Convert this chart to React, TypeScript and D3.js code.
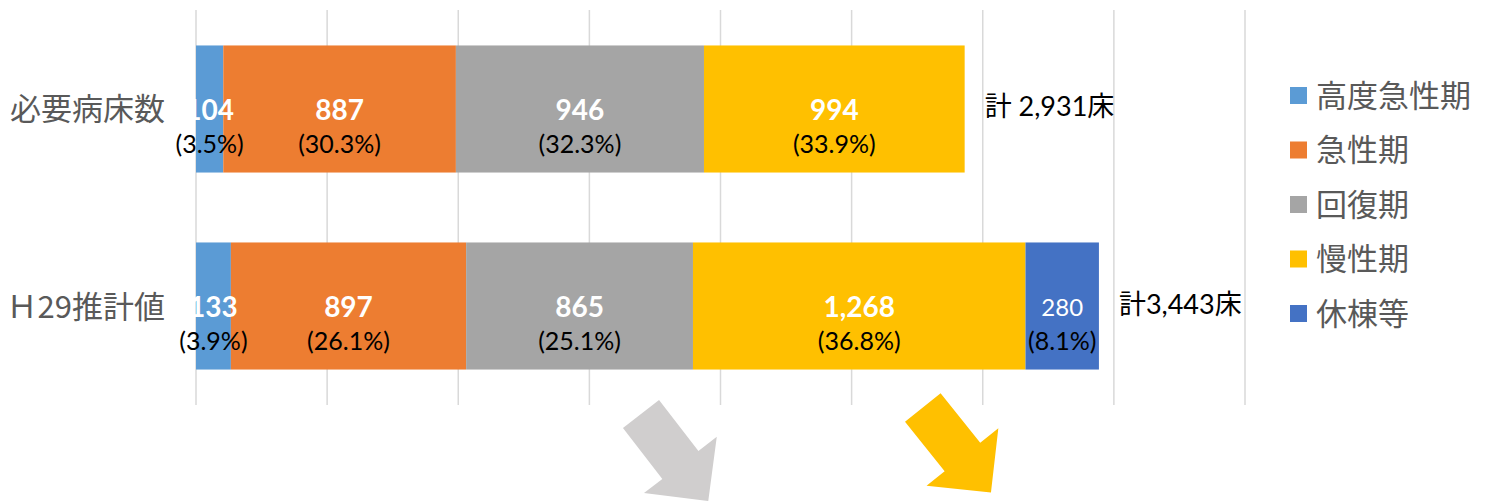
import React from "react";
import * as d3 from "d3";

const categories = ["必要病床数", "Ｈ29推計値"];
const seriesNames = ["高度急性期", "急性期", "回復期", "慢性期", "休棟等"];
const seriesColors = ["#5B9BD5", "#ED7D31", "#A5A5A5", "#FFC000", "#4472C4"];
const values = [
  [104, 887, 946, 994, 0],
  [133, 897, 865, 1268, 280],
];
const percents = [
  ["3.5%", "30.3%", "32.3%", "33.9%", ""],
  ["3.9%", "26.1%", "25.1%", "36.8%", "8.1%"],
];
const totalLabels = ["計 2,931床", "計3,443床"];
const xTicks = [0, 500, 1000, 1500, 2000, 2500, 3000, 3500, 4000];

const W = 1491;
const H = 501;
const NUM_FONT = "Lato, 'Noto Sans CJK JP', sans-serif";
const JP_FONT = "'Noto Sans CJK JP', sans-serif";

function arrowPath(x0: number, y0: number, angleDeg: number, len: number, shaftW: number, headW: number, headL: number) {
  const a = (angleDeg * Math.PI) / 180;
  const ux = Math.cos(a), uy = Math.sin(a);
  const px = -uy, py = ux;
  const pt = (along: number, side: number) => [x0 + ux * along + px * side, y0 + uy * along + py * side];
  const pts = [
    pt(0, -shaftW / 2),
    pt(len - headL, -shaftW / 2),
    pt(len - headL, -headW / 2),
    pt(len, 0),
    pt(len - headL, headW / 2),
    pt(len - headL, shaftW / 2),
    pt(0, shaftW / 2),
  ];
  return "M" + pts.map((p) => p.join(",")).join("L") + "Z";
}

export default function App() {
  const x = d3.scaleLinear().domain([0, 4000]).range([196, 1245]);
  const y = d3.scaleBand<string>().domain(categories).range([10, 405]).paddingInner(0.355).paddingOuter(0.18);

  const stacks = values.map((row) => {
    let acc = 0;
    return row.map((v) => {
      const s = acc;
      acc += v;
      return [s, acc];
    });
  });

  return (
    <svg width={W} height={H} style={{ position: "absolute", left: 0, top: 0, background: "#fff" }}>
      {xTicks.map((t) => (
        <line key={t} x1={x(t)} x2={x(t)} y1={10} y2={405} stroke="#D9D9D9" strokeWidth={1.5} />
      ))}
      {categories.map((c, i) => {
        const y0 = y(c)!;
        const bw = y.bandwidth();
        return (
          <g key={c}>
            {stacks[i].map(([s, e], j) =>
              e > s ? (
                <rect key={j} x={x(s)} y={y0} width={x(e) - x(s)} height={bw} fill={seriesColors[j]} />
              ) : null
            )}
          </g>
        );
      })}
      {categories.map((c, i) => {
        const cy = y(c)! + y.bandwidth() / 2;
        return (
          <g key={c + "lab"}>
            <text x={165} y={cy - 2} textAnchor="end" dominantBaseline="central" fontFamily={JP_FONT} fontSize={31} fill="#595959">
              {c}
            </text>
            {stacks[i].map(([s, e], j) => {
              if (e <= s) return null;
              const mx = (x(s) + x(e)) / 2;
              const bold = j !== 4;
              return (
                <g key={j}>
                  <text x={mx} y={cy} textAnchor="middle" dominantBaseline="central" fontFamily={NUM_FONT} fontSize={bold ? 28 : 24} fontWeight={bold ? 700 : 400} fill="#fff">
                    {d3.format(",")(values[i][j])}
                  </text>
                  <text x={mx} y={cy + 34} textAnchor="middle" dominantBaseline="central" fontFamily={NUM_FONT} fontSize={25} fill="#000">
                    ({percents[i][j]})
                  </text>
                </g>
              );
            })}
            <text x={x(d3.sum(values[i])) + 20} y={cy - 3} dominantBaseline="central" fontFamily={NUM_FONT} fontSize={27} fill="#000">
              {totalLabels[i]}
            </text>
          </g>
        );
      })}
      {seriesNames.map((n, i) => {
        const cy = 95 + i * 54.5;
        return (
          <g key={n}>
            <rect x={1290} y={cy - 8} width={17} height={17} fill={seriesColors[i]} />
            <text x={1316} y={cy - 2} dominantBaseline="central" fontFamily={JP_FONT} fontSize={31} fill="#595959">
              {n}
            </text>
          </g>
        );
      })}
      <path d={arrowPath(641, 414, 52.3, 110, 45.6, 92, 45.6)} fill="#D0CECE" />
      <path d={arrowPath(922.8, 407.5, 51.3, 109, 45.6, 92, 45.6)} fill="#FFC000" />
    </svg>
  );
}
